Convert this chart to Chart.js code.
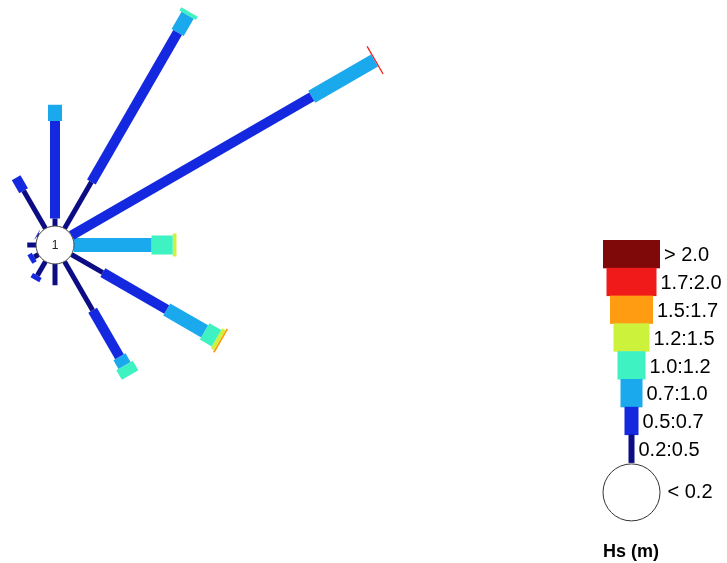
<!DOCTYPE html>
<html>
<head>
<meta charset="utf-8">
<script src="https://cdn.jsdelivr.net/npm/chart.js@4.4.0/dist/chart.umd.min.js"></script>
<style>
  body { margin: 0; background: #fff; }
  #wrap { width: 727px; height: 563px; position: relative; }
</style>
</head>
<body>
<div id="wrap"><canvas id="rose"></canvas></div>
<script>
// wave rose: direction sectors (deg from north) and % of time per Hs class
var directions = [0, 30, 60, 90, 120, 150, 180, 210, 240, 270, 300, 330];
var hsLabels = ["0.2:0.5", "0.5:0.7", "0.7:1.0", "1.0:1.2", "1.2:1.5", "1.5:1.7", "1.7:2.0", "> 2.0"];
var calmLabel = "< 0.2";
var calmPct = 1;
var legendTitle = "Hs (m)";

var freqHs02_05 = [0.6, 4.3, 0, 0, 2.9, 4.5, 1.7, 1.3, 0.4, 0.7, 0.1, 3.5];
var freqHs05_07 = [7.8, 13.8, 22.2, 0, 5.9, 4.3, 0, 0.4, 0.4, 0, 0.05, 1.2];
var freqHs07_10 = [1.3, 1.6, 5.8, 6.2, 3.5, 0.8, 0, 0, 0, 0, 0, 0];
var freqHs10_12 = [0, 0.3, 0, 1.7, 1.1, 0.9, 0, 0, 0, 0, 0, 0];
var freqHs12_15 = [0, 0, 0, 0.3, 0.3, 0, 0, 0, 0, 0, 0, 0];
var freqHs15_17 = [0, 0, 0, 0, 0.15, 0, 0, 0, 0, 0, 0, 0];
var freqHs17_20 = [0, 0, 0.1, 0, 0, 0, 0, 0, 0, 0, 0, 0];
var freqHs20_up = [0, 0, 0, 0, 0, 0, 0, 0, 0, 0, 0, 0];

var classFreqs = [freqHs02_05, freqHs05_07, freqHs07_10, freqHs10_12,
  freqHs12_15, freqHs15_17, freqHs17_20, freqHs20_up];

// styles
var classColors = ["#0c0c85", "#1428e0", "#1ba9ee", "#3ef2c2", "#cdf23c", "#ff9c12", "#f01a1a", "#7f0808"];
var roseWidths = [5, 10, 14, 19, 23, 27, 32, 36];
var legendWidths = [6, 14, 22, 28, 36, 43, 50, 57];

// layout: pixels per 1 %, centre of rose in pixels
var pxPerPct = 12.5;
var cx = 55, cy = 245;
var calmRadius = 1.52; // in % units, radius of the centre circle

function makeDatasets() {
  var sets = [];
  for (var d = 0; d < directions.length; d++) {
    var a = directions[d] * Math.PI / 180;
    var r = calmRadius;
    for (var k = 0; k < classFreqs.length; k++) {
      var f = classFreqs[k][d];
      if (!f) continue;
      var r2 = r + f;
      sets.push({
        data: [
          { x: r * Math.sin(a), y: r * Math.cos(a) },
          { x: r2 * Math.sin(a), y: r2 * Math.cos(a) }
        ],
        borderColor: classColors[k],
        borderWidth: roseWidths[k],
        borderCapStyle: "butt",
        pointRadius: 0,
        showLine: true,
        fill: false
      });
      r = r2;
    }
  }
  return sets;
}

var roseExtras = {
  id: "roseExtras",
  afterDatasetsDraw: function(chart) {
    var ctx = chart.ctx;
    var sx = chart.scales.x, sy = chart.scales.y;
    var px = sx.getPixelForValue(0), py = sy.getPixelForValue(0);
    var rad = sx.getPixelForValue(calmRadius) - px;
    ctx.save();
    ctx.beginPath();
    ctx.arc(px, py, rad, 0, Math.PI * 2);
    ctx.fillStyle = "#fff";
    ctx.fill();
    ctx.lineWidth = 1;
    ctx.strokeStyle = "#444";
    ctx.stroke();
    ctx.fillStyle = "#222";
    ctx.font = '12px "Liberation Sans", Arial, sans-serif';
    ctx.textAlign = "center";
    ctx.textBaseline = "middle";
    ctx.fillText(String(calmPct), px, py + 1);
    ctx.restore();
  },
  afterDraw: function(chart) {
    var ctx = chart.ctx;
    var lx = 631.5, top = 240, rowH = 27.8;
    ctx.save();
    ctx.font = '20px "Liberation Sans", Arial, sans-serif';
    ctx.textBaseline = "middle";
    ctx.textAlign = "left";
    var n = hsLabels.length;
    for (var i = 0; i < n; i++) {
      var k = n - 1 - i;
      var w = legendWidths[k];
      var y0 = top + i * rowH;
      ctx.fillStyle = classColors[k];
      ctx.fillRect(lx - w / 2, y0, w, rowH + 0.5);
      ctx.fillStyle = "#000";
      ctx.fillText(hsLabels[k], lx + w / 2 + 4, y0 + rowH / 2 + 2);
    }
    var ccy = top + n * rowH + 30;
    ctx.beginPath();
    ctx.arc(lx, ccy, 28.5, 0, Math.PI * 2);
    ctx.fillStyle = "#fff";
    ctx.fill();
    ctx.lineWidth = 1;
    ctx.strokeStyle = "#333";
    ctx.stroke();
    ctx.fillStyle = "#000";
    ctx.fillText(calmLabel, lx + 36, ccy);
    ctx.font = 'bold 18px "Liberation Sans", Arial, sans-serif';
    ctx.fillText(legendTitle, 603, 552);
    ctx.restore();
  }
};

var chart = new Chart(document.getElementById("rose"), {
  type: "scatter",
  data: { datasets: makeDatasets() },
  options: {
    responsive: true,
    maintainAspectRatio: false,
    animation: false,
    events: [],
    layout: { padding: 0 },
    plugins: { legend: { display: false }, tooltip: { enabled: false } },
    scales: {
      x: { type: "linear", display: false, min: -cx / pxPerPct, max: (727 - cx) / pxPerPct },
      y: { type: "linear", display: false, min: -(563 - cy) / pxPerPct, max: cy / pxPerPct }
    }
  },
  plugins: [roseExtras]
});
</script>
</body>
</html>
